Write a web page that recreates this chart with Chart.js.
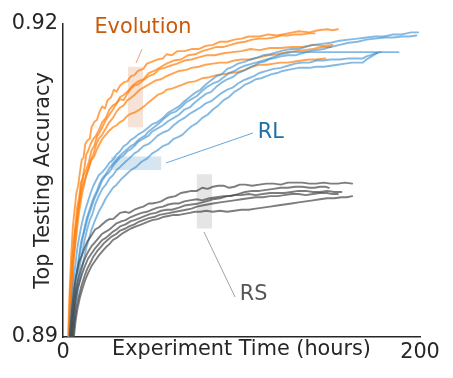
<!DOCTYPE html>
<html>
<head>
<meta charset="utf-8">
<script src="https://cdn.jsdelivr.net/npm/chart.js@4/dist/chart.umd.min.js"></script>
<style>
  html, body { margin: 0; padding: 0; background: #fff; }
  #wrap { width: 453px; height: 378px; }
</style>
</head>
<body>
<div id="wrap"><canvas id="chart" width="453" height="378"></canvas></div>
<script>
// x = experiment time (hours), y = top testing accuracy
const evo1 = [[2.5,0.888],[3.5,0.8935],[4.5,0.8975],[5.5,0.9005],[6.5,0.9022],[7.5,0.9038],[8.5,0.9045],[9.5,0.9058],[10.5,0.907],[11.5,0.9072],[12.5,0.9085],[13.5,0.9088],[15,0.909],[16,0.9101],[17.5,0.9106],[19,0.9108],[20.5,0.9116],[22,0.9121],[23.5,0.9119],[25,0.9127],[27,0.913],[28.5,0.9137],[30,0.9135],[32,0.9141],[34,0.9144],[36,0.9145],[38,0.915],[40,0.9151],[42,0.9155],[45,0.9157],[47,0.9162],[50,0.9164],[53,0.9166],[56,0.9167],[58,0.9171],[61,0.917],[64,0.9174],[68,0.9174],[72,0.9176],[76,0.9176],[80,0.9179],[84,0.918],[88,0.9183],[92,0.9183],[96,0.9185],[100,0.9186],[104,0.9188],[110,0.9188],[115,0.919],[120,0.9189],[126,0.9191],[132,0.9193],[138,0.9192],[143,0.9194],[148,0.9195],[151,0.9194],[154,0.9195]];
const evo2 = [[3,0.888],[4,0.8935],[5,0.8965],[6,0.899],[7,0.9008],[8,0.9025],[9,0.9033],[10,0.9048],[11,0.9052],[12,0.9062],[13,0.9075],[14,0.9078],[15.5,0.9085],[17,0.909],[18.5,0.9093],[20,0.9098],[22,0.9106],[24,0.911],[26,0.9118],[28,0.9122],[30,0.9124],[32,0.913],[34,0.9132],[36,0.9135],[39,0.9141],[42,0.9145],[45,0.9147],[48,0.9153],[51,0.9155],[55,0.9159],[58,0.9162],[62,0.9165],[66,0.9166],[70,0.917],[74,0.9171],[78,0.9174],[82,0.9176],[86,0.9178],[90,0.9178],[94,0.918],[98,0.9182],[102,0.9183],[106,0.9185],[110,0.9186],[114,0.9186],[118,0.9187],[122,0.9189],[126,0.9189],[130,0.919],[134,0.919],[138,0.9191],[141,0.9191]];
const evo3 = [[3.5,0.888],[4.5,0.8935],[5.5,0.8968],[6.5,0.8985],[7.5,0.9005],[8.5,0.9022],[9.5,0.9035],[10.5,0.9047],[11.5,0.9055],[13,0.906],[14.5,0.9068],[16,0.9079],[17.5,0.9083],[19,0.9092],[20.5,0.9096],[22,0.9101],[24,0.9108],[26,0.9113],[28,0.9118],[30,0.9124],[32,0.9128],[34,0.9127],[36,0.9133],[38,0.9138],[40,0.9141],[42,0.9142],[45,0.9146],[48,0.915],[51,0.9152],[54,0.9157],[57,0.9158],[60,0.916],[64,0.9162],[68,0.9165],[72,0.9166],[76,0.9168],[80,0.917],[85,0.917],[90,0.9172],[95,0.9173],[100,0.9174],[105,0.9176],[110,0.9175],[116,0.9177],[122,0.9177],[128,0.9178],[134,0.9178],[140,0.918],[146,0.9179],[151,0.918]];
const evo4 = [[3,0.888],[4,0.8945],[5,0.8972],[6,0.899],[7,0.9005],[8,0.9015],[9,0.9026],[10,0.9038],[11,0.9045],[12.5,0.9052],[14,0.906],[15.5,0.9069],[17,0.9075],[18.5,0.9084],[20,0.909],[22,0.9094],[24,0.91],[26,0.9106],[28,0.911],[30,0.9116],[32,0.912],[34,0.9122],[36,0.9127],[38,0.9129],[40,0.9132],[43,0.9137],[46,0.914],[49,0.9143],[52,0.9146],[55,0.9147],[58,0.915],[62,0.9153],[65,0.9155],[69,0.9156],[72,0.9158],[76,0.9159],[80,0.9161],[84,0.9162],[88,0.9163],[92,0.9163],[96,0.9165],[100,0.9166],[105,0.9166],[110,0.9168],[115,0.917],[120,0.9171],[125,0.9173],[130,0.9174],[135,0.9175],[140,0.9176],[145,0.9178],[150,0.9178]];
const evo5 = [[4,0.888],[5,0.8945],[6,0.8975],[7,0.899],[8,0.9005],[9,0.902],[10,0.903],[11,0.904],[12,0.9047],[13,0.9055],[14.5,0.9062],[16,0.907],[17.5,0.9073],[19,0.908],[20.5,0.9085],[22,0.909],[24,0.9094],[26,0.9098],[28,0.9101],[30,0.9103],[32,0.9106],[34,0.9108],[36,0.9112],[38,0.9114],[40,0.9115],[43,0.9118],[46,0.9122],[48,0.9125],[51,0.9129],[53,0.9132],[56,0.9134],[58,0.9137],[61,0.9138],[64,0.914],[67,0.9142],[70,0.9144],[74,0.9145],[78,0.9148],[82,0.9149],[86,0.9151],[90,0.9152],[94,0.9153],[98,0.9154],[102,0.9156],[106,0.9159],[110,0.9161],[114,0.9161],[118,0.9162],[122,0.9163],[126,0.9163],[130,0.9164],[134,0.9165],[138,0.9166],[142,0.9166],[147,0.9167]];

const rl1 = [[3,0.888],[4,0.8915],[5,0.8935],[6,0.8955],[7,0.897],[8,0.8985],[9,0.8995],[10,0.9004],[11,0.9012],[12.5,0.9022],[14,0.903],[15.5,0.9038],[17,0.9045],[18.5,0.905],[20,0.9055],[22,0.9058],[24,0.9062],[26,0.9067],[28,0.907],[30,0.9075],[32,0.9078],[34,0.9083],[36,0.9085],[38,0.9089],[40,0.9091],[42,0.9094],[45,0.9097],[48,0.9101],[50,0.9104],[53,0.9106],[56,0.911],[59,0.9115],[62,0.9118],[65,0.9121],[68,0.9126],[71,0.913],[74,0.9134],[77,0.9137],[80,0.9142],[83,0.9146],[86,0.915],[89,0.9152],[92,0.9157],[95,0.9159],[98,0.9162],[102,0.9164],[105,0.9166],[109,0.9168],[112,0.917],[116,0.9171],[120,0.9173],[124,0.9175],[128,0.9176],[132,0.9176],[136,0.9178],[140,0.918],[145,0.9181],[150,0.9182],[155,0.9184],[160,0.9185],[165,0.9186],[170,0.9187],[175,0.9188],[180,0.9188],[185,0.919],[190,0.919],[195,0.9192],[199,0.9192]];
const rl2 = [[3.5,0.888],[4.5,0.891],[5.5,0.893],[6.5,0.895],[8,0.8965],[9,0.8978],[10,0.899],[11.5,0.9],[13,0.9012],[14.5,0.902],[16,0.9028],[17.5,0.9035],[19,0.904],[20.5,0.9047],[22,0.9052],[24,0.9056],[26,0.9062],[28,0.9066],[30,0.907],[32,0.9074],[34,0.9077],[36,0.908],[38,0.9083],[40,0.9085],[43,0.909],[46,0.9093],[48,0.9097],[51,0.9101],[54,0.9105],[57,0.911],[60,0.9114],[63,0.9116],[66,0.912],[69,0.9125],[72,0.9128],[75,0.9131],[78,0.9136],[81,0.914],[84,0.9143],[87,0.9145],[90,0.9149],[93,0.9153],[96,0.9155],[99,0.9158],[102,0.916],[106,0.9162],[110,0.9164],[114,0.9166],[118,0.9167],[122,0.9169],[126,0.917],[130,0.917],[134,0.9172],[138,0.9174],[142,0.9175],[146,0.9176],[150,0.9178],[155,0.918],[160,0.9182],[165,0.9183],[170,0.9185],[175,0.9186],[180,0.9187],[185,0.9187],[190,0.9188],[194,0.9188],[198,0.9189]];
const rl3 = [[4,0.888],[5,0.891],[6,0.8935],[7,0.8952],[8,0.8965],[9.5,0.898],[11,0.8995],[12.5,0.9005],[14,0.9015],[15.5,0.9022],[17,0.903],[18.5,0.9036],[20,0.9042],[22,0.905],[24,0.9055],[26,0.9058],[28,0.9064],[30,0.9068],[32,0.9072],[34,0.9074],[36,0.9078],[38,0.908],[40,0.9083],[42,0.9087],[45,0.909],[48,0.9093],[50,0.9097],[53,0.91],[56,0.9103],[59,0.9107],[62,0.911],[65,0.9113],[68,0.9118],[71,0.912],[74,0.9125],[77,0.9129],[80,0.9133],[83,0.9135],[86,0.914],[89,0.9144],[92,0.9147],[95,0.9149],[98,0.9153],[101,0.9155],[104,0.9158],[107,0.916],[110,0.9163],[113,0.9164],[116,0.9167],[119,0.9169],[122,0.9171],[125,0.9172],[128,0.9173],[150,0.9173],[170,0.9173],[188,0.9173]];
const rl4 = [[4.5,0.888],[5.5,0.891],[6.5,0.8935],[8,0.8952],[9,0.8965],[10.5,0.8978],[12,0.8992],[13.5,0.9003],[15,0.9012],[16.5,0.9018],[18,0.9027],[20,0.9035],[22,0.9042],[24,0.9046],[26,0.9052],[28,0.9055],[30,0.906],[32,0.9063],[35,0.9068],[37,0.9071],[40,0.9076],[42,0.9078],[45,0.9083],[48,0.9085],[50,0.9088],[53,0.9093],[56,0.9096],[59,0.9098],[62,0.9103],[65,0.9107],[68,0.911],[71,0.9114],[74,0.9117],[77,0.912],[80,0.9124],[83,0.9126],[86,0.913],[89,0.9134],[92,0.9137],[95,0.9139],[98,0.9143],[101,0.9146],[104,0.9148],[107,0.915],[110,0.9153],[114,0.9155],[118,0.9157],[122,0.9158],[126,0.916],[130,0.9162],[134,0.9163],[138,0.9163],[142,0.9165],[146,0.9165],[150,0.9166],[155,0.9166],[160,0.9167],[165,0.9167],[168,0.9167],[170,0.9169],[172,0.917],[175,0.9172],[178,0.9173]];
const rl5 = [[5,0.888],[6,0.891],[7,0.893],[8.5,0.8947],[10,0.896],[11.5,0.8973],[13,0.8985],[14.5,0.8994],[16,0.9003],[18,0.9012],[20,0.902],[22,0.9026],[24,0.9033],[26,0.9038],[28,0.9043],[30,0.9046],[33,0.9052],[35,0.9055],[38,0.906],[41,0.9063],[44,0.9068],[47,0.9071],[50,0.9076],[53,0.9079],[56,0.9083],[59,0.9085],[62,0.909],[65,0.9092],[67,0.9094],[70,0.9099],[72,0.9102],[75,0.9105],[78,0.911],[81,0.9113],[84,0.9118],[87,0.9122],[90,0.9127],[93,0.913],[96,0.9135],[99,0.9138],[102,0.9142],[105,0.9144],[108,0.9147],[111,0.9148],[114,0.915],[117,0.9152],[120,0.9153],[123,0.9155],[126,0.9156],[129,0.9157],[132,0.9158],[138,0.9158],[142,0.9159],[146,0.9159],[150,0.916],[154,0.9161],[158,0.9162],[162,0.9163],[166,0.9163],[168,0.9163],[170,0.9166],[172,0.9168],[174,0.917],[176,0.9172]];

const rs1 = [[3,0.888],[4,0.8905],[5,0.8925],[6,0.8942],[7,0.8955],[8,0.8964],[9,0.8972],[10.5,0.8978],[12,0.8985],[13.5,0.8991],[15,0.8995],[16.5,0.8999],[18,0.9003],[20,0.9005],[22,0.9008],[24,0.9011],[26,0.9013],[28,0.9013],[30,0.9016],[32,0.9019],[35,0.902],[37,0.9019],[40,0.9022],[43,0.9024],[45,0.9025],[48,0.9028],[50,0.9028],[53,0.9029],[55,0.903],[58,0.9033],[60,0.9034],[63,0.9035],[66,0.9038],[69,0.9039],[72,0.904],[75,0.904],[78,0.9043],[81,0.9042],[84,0.9044],[87,0.9045],[90,0.9045],[93,0.9043],[96,0.9044],[99,0.9046],[102,0.9046],[106,0.9045],[110,0.9046],[114,0.9047],[118,0.9047],[122,0.9046],[126,0.9048],[130,0.9048],[134,0.9048],[138,0.9047],[142,0.9047],[146,0.9048],[150,0.9047],[154,0.9047],[158,0.9048],[162,0.9047]];
const rs2 = [[3.5,0.888],[4.5,0.8902],[5.5,0.892],[6.5,0.8936],[7.5,0.8948],[8.5,0.8955],[10,0.8965],[11.5,0.8972],[13,0.8978],[14.5,0.8983],[16,0.8987],[18,0.8991],[20,0.8995],[22,0.8999],[24,0.9001],[26,0.9003],[28,0.9006],[30,0.9009],[33,0.9011],[35,0.9012],[38,0.9015],[41,0.9017],[44,0.9019],[47,0.902],[50,0.9022],[53,0.9024],[56,0.9025],[59,0.9027],[62,0.9028],[65,0.9028],[68,0.903],[71,0.9031],[75,0.9032],[78,0.9031],[82,0.9033],[86,0.9034],[90,0.9035],[94,0.9035],[98,0.9037],[102,0.9039],[106,0.904],[110,0.904],[114,0.9041],[118,0.9042],[122,0.9043],[126,0.9043],[130,0.9044],[134,0.9044],[138,0.9043],[141,0.9043],[144,0.9044],[147,0.9044],[149,0.9043]];
const rs3 = [[4,0.888],[5,0.8902],[6,0.892],[7,0.8934],[8,0.8945],[9.5,0.8954],[11,0.8962],[12.5,0.8969],[14,0.8975],[16,0.898],[18,0.8985],[20,0.8989],[22,0.8993],[24,0.8995],[26,0.8998],[28,0.9001],[30,0.9003],[32,0.9006],[35,0.9008],[38,0.9011],[40,0.9012],[43,0.9014],[46,0.9016],[49,0.9018],[52,0.9019],[55,0.9021],[58,0.9022],[61,0.9022],[65,0.9024],[68,0.9026],[72,0.9027],[76,0.9028],[80,0.903],[84,0.9032],[88,0.9033],[92,0.9035],[96,0.9036],[100,0.9036],[104,0.9037],[108,0.9036],[112,0.9037],[116,0.9038],[120,0.9038],[124,0.9038],[128,0.9039],[132,0.904],[136,0.904],[140,0.9039],[144,0.9039],[148,0.904],[152,0.9039],[156,0.9039]];
const rs4 = [[4.5,0.888],[5.5,0.89],[6.5,0.8915],[7.5,0.8928],[9,0.894],[10.5,0.895],[12,0.8958],[13.5,0.8965],[15,0.897],[17,0.8977],[19,0.8982],[21,0.8986],[23,0.899],[25,0.8993],[27,0.8996],[30,0.8999],[32,0.9002],[35,0.9004],[37,0.9006],[40,0.9008],[42,0.901],[45,0.9012],[48,0.9014],[51,0.9015],[54,0.9017],[57,0.9018],[60,0.9019],[63,0.902],[66,0.9021],[69,0.9022],[72,0.9023],[75,0.9025],[78,0.9026],[81,0.9027],[84,0.9028],[88,0.9029],[92,0.903],[96,0.9031],[100,0.9032],[104,0.9033],[108,0.9034],[112,0.9034],[116,0.9035],[120,0.9035],[124,0.9036],[128,0.9037],[132,0.9037],[136,0.9036],[140,0.9037],[144,0.9038],[148,0.9038],[151,0.9037],[154,0.9037]];
const rs5 = [[5,0.888],[6,0.8898],[7,0.8915],[8,0.8926],[9.5,0.8938],[11,0.8947],[12.5,0.8955],[14,0.8961],[16,0.8968],[18,0.8973],[20,0.8978],[22,0.8982],[24,0.8986],[26,0.8989],[28,0.8993],[30,0.8995],[33,0.8999],[35,0.9001],[38,0.9004],[41,0.9006],[44,0.9008],[47,0.901],[50,0.9012],[53,0.9013],[56,0.9015],[59,0.9016],[62,0.9017],[65,0.9017],[68,0.9018],[71,0.9019],[74,0.902],[77,0.902],[80,0.9021],[84,0.902],[88,0.9021],[92,0.902],[96,0.9021],[100,0.9022],[104,0.9022],[108,0.9023],[112,0.9024],[116,0.9025],[120,0.9026],[124,0.9027],[128,0.9028],[132,0.9029],[136,0.903],[140,0.9031],[144,0.9032],[148,0.9033],[152,0.9033],[156,0.9034],[159,0.9034],[162,0.9035]];

const evolutionRuns = [evo1, evo2, evo3, evo4, evo5];
const rlRuns = [rl1, rl2, rl3, rl4, rl5];
const rsRuns = [rs1, rs2, rs3, rs4, rs5];

const xTicks = [0, 200];
const xTickLabels = ['0', '200'];
const yTicks = [0.89, 0.92];
const yTickLabels = ['0.89', '0.92'];

// shaded boxes: [x0, x1, y0, y1]
const evoBox = [36.4, 44.8, 0.9101, 0.9159];
const rlBox = [27, 55, 0.9060, 0.9073];
const rsBox = [75, 83.5, 0.9004, 0.9056];

// callout leaders: [x0, y0, x1, y1]
const evoLeader = [40.9, 0.91626, 44.3, 0.9176];
const rlLeader = [57.7, 0.90668, 106.4, 0.90955];
const rsLeader = [79.0, 0.90006, 96.4, 0.89383];

// label text and anchor [x, y]
const labelNames = ['Evolution', 'RL', 'RS'];
const labelPos = [[44.8, 0.91962], [116.4, 0.90955], [106.8, 0.89403]];

const FONT = 'DejaVu Sans';
const FS = 20.8;

const colors = {
  evo: 'rgba(255,127,14,0.72)',
  rl: 'rgba(52,138,205,0.6)',
  rs: 'rgba(70,70,70,0.7)'
};

function makeSets(runs, color, order) {
  return runs.map(r => ({
    data: r.map(p => ({x: p[0], y: p[1]})),
    borderColor: color,
    borderWidth: 1.9,
    borderJoinStyle: 'round',
    borderCapStyle: 'round',
    pointRadius: 0,
    tension: 0,
    fill: false,
    clip: 0,
    order: order
  }));
}

const calloutPlugin = {
  id: 'callouts',
  beforeDatasetsDraw(chart) {
    const {ctx, scales: {x, y}} = chart;
    const box = (b, c) => {
      const x0 = x.getPixelForValue(b[0]), x1 = x.getPixelForValue(b[1]);
      const y0 = y.getPixelForValue(b[2]), y1 = y.getPixelForValue(b[3]);
      ctx.fillStyle = c;
      ctx.fillRect(x0, y1, x1 - x0, y0 - y1);
    };
    ctx.save();
    box(evoBox, 'rgba(215,125,75,0.22)');
    box(rlBox, 'rgba(90,155,200,0.25)');
    box(rsBox, 'rgba(150,150,150,0.25)');
    ctx.restore();
  },
  afterDatasetsDraw(chart) {
    const {ctx, scales: {x, y}} = chart;
    const seg = (l, c) => {
      ctx.strokeStyle = c;
      ctx.lineWidth = 1;
      ctx.beginPath();
      ctx.moveTo(x.getPixelForValue(l[0]), y.getPixelForValue(l[1]));
      ctx.lineTo(x.getPixelForValue(l[2]), y.getPixelForValue(l[3]));
      ctx.stroke();
    };
    ctx.save();
    seg(evoLeader, 'rgba(215,125,75,0.7)');
    seg(rlLeader, 'rgba(52,138,205,0.75)');
    seg(rsLeader, 'rgba(140,140,140,0.8)');
    const labelColors = ['#c95a0c', '#1f6ea8', '#555555'];
    ctx.font = FS + 'px "' + FONT + '"';
    ctx.textAlign = 'center';
    ctx.textBaseline = 'middle';
    labelNames.forEach((t, i) => {
      ctx.fillStyle = labelColors[i];
      ctx.fillText(t, x.getPixelForValue(labelPos[i][0]), y.getPixelForValue(labelPos[i][1]));
    });
    ctx.restore();
  }
};

new Chart(document.getElementById('chart'), {
  type: 'line',
  data: {
    datasets: [
      ...makeSets(rsRuns, colors.rs, 0),
      ...makeSets(rlRuns, colors.rl, 1),
      ...makeSets(evolutionRuns, colors.evo, 2)
    ]
  },
  options: {
    responsive: false,
    animation: false,
    events: [],
    layout: { padding: { left: 0, right: 33, top: 24, bottom: 0 } },
    plugins: { legend: { display: false }, tooltip: { enabled: false } },
    scales: {
      x: {
        type: 'linear',
        min: 0,
        max: 200,
        afterBuildTicks: s => { s.ticks = xTicks.map(v => ({value: v})); },
        afterFit: s => { s.height = 41; },
        grid: { display: false, drawTicks: false },
        border: { display: true, color: '#262626', width: 1.5 },
        ticks: {
          padding: 3,
          color: '#262626',
          font: { family: FONT, size: FS },
          maxRotation: 0,
          callback: (v, i) => xTickLabels[i]
        },
        title: {
          display: true,
          text: 'Experiment Time (hours)',
          color: '#262626',
          font: { family: FONT, size: FS },
          padding: { top: 0, bottom: 15.5 }
        }
      },
      y: {
        type: 'linear',
        min: 0.89,
        max: 0.92,
        afterBuildTicks: s => { s.ticks = yTicks.map(v => ({value: v})); },
        afterFit: s => { s.width = 63; },
        grid: { display: false, drawTicks: false },
        border: { display: true, color: '#262626', width: 1.5 },
        ticks: {
          padding: 5,
          color: '#262626',
          font: { family: FONT, size: FS },
          callback: (v, i) => yTickLabels[i]
        },
        title: {
          display: true,
          text: 'Top Testing Accuracy',
          color: '#262626',
          font: { family: FONT, size: FS },
          padding: { top: 31.5, bottom: 0 }
        }
      }
    }
  },
  plugins: [calloutPlugin]
});
</script>
</body>
</html>
